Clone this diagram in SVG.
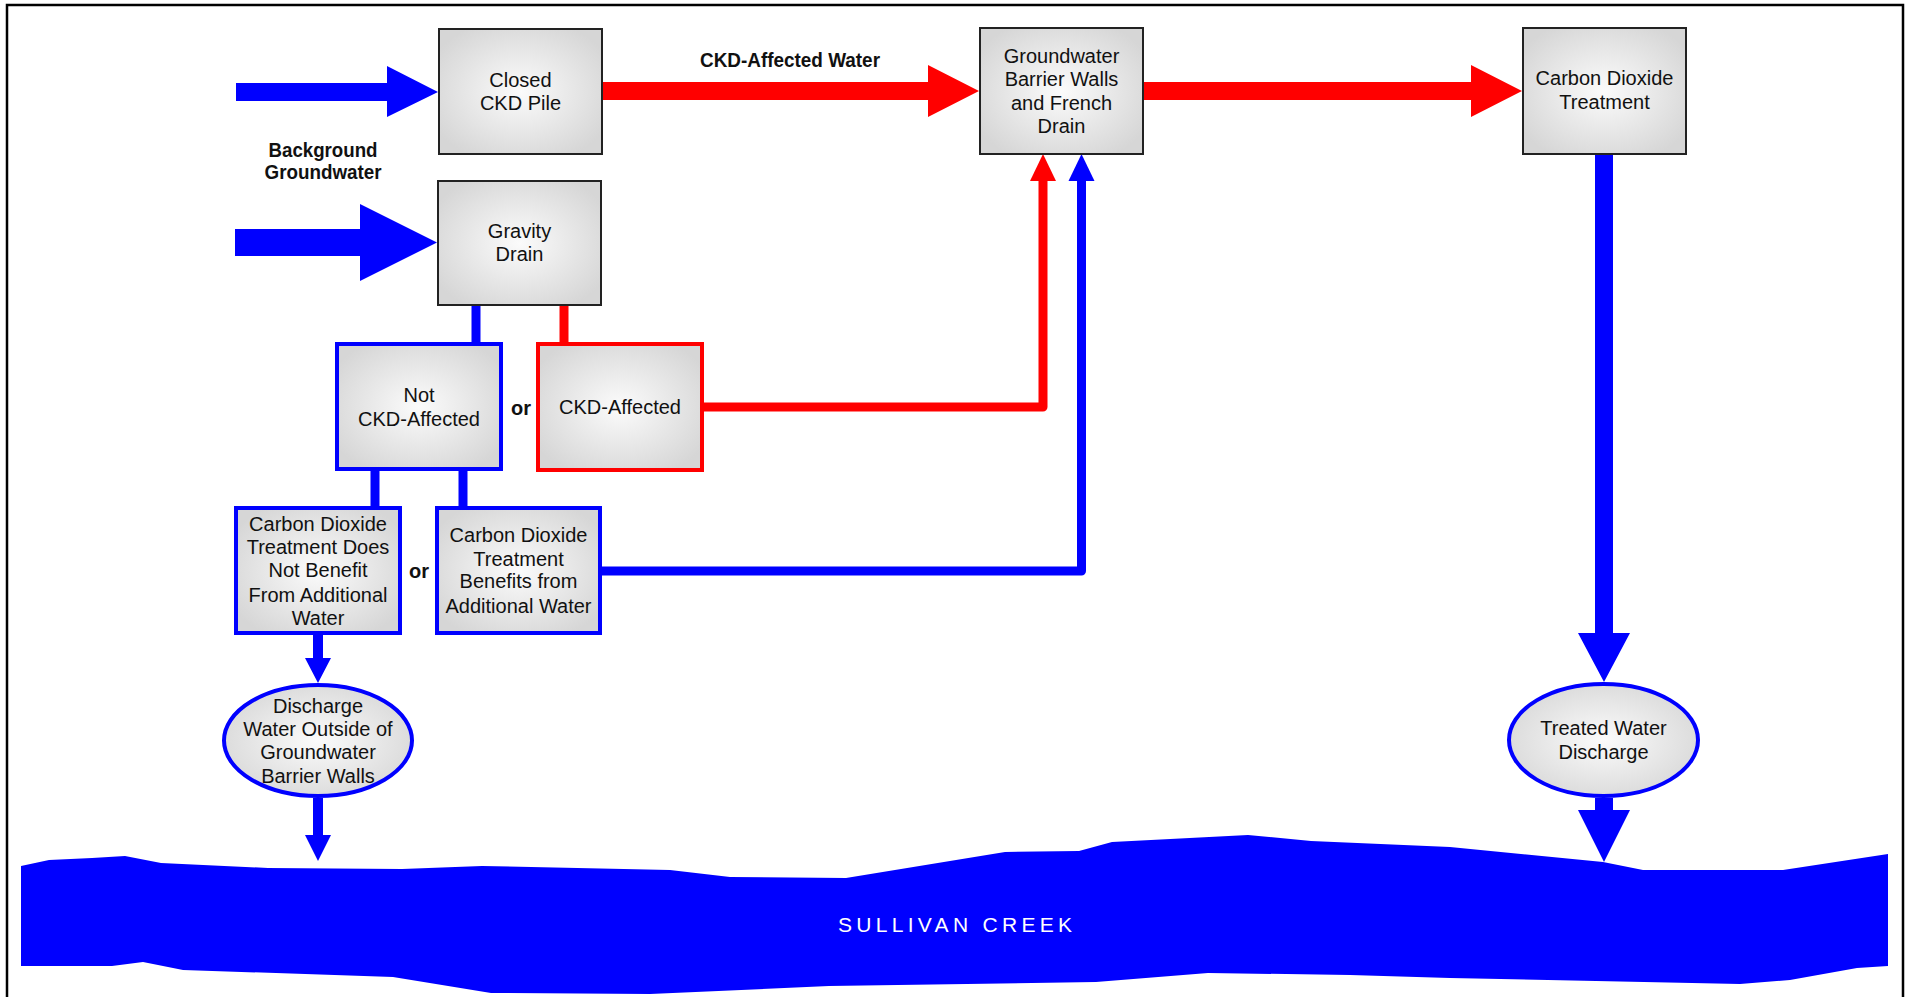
<svg xmlns="http://www.w3.org/2000/svg" width="1911" height="997" viewBox="0 0 1911 997">
<defs>
<radialGradient id="g" cx="50%" cy="50%" r="60%">
<stop offset="0" stop-color="#fbfbfb"/>
<stop offset="1" stop-color="#d6d6d6"/>
</radialGradient>
<style>
.t{font-family:"Liberation Sans",Arial,sans-serif;font-size:20px;fill:#111;text-anchor:middle}
.b{font-family:"Liberation Sans",Arial,sans-serif;font-size:20px;font-weight:bold;fill:#111;text-anchor:middle}
.gb{fill:url(#g);stroke:#222;stroke-width:2}
.bb{fill:url(#g);stroke:#0000ff;stroke-width:4}
.rb{fill:url(#g);stroke:#ff0000;stroke-width:4}
.bl{fill:#0000ff}
.rd{fill:#ff0000}
.bs{fill:none;stroke:#0000ff;stroke-width:9;stroke-linejoin:round}
.rs{fill:none;stroke:#ff0000;stroke-width:9;stroke-linejoin:round}
</style>
</defs>
<rect width="1911" height="997" fill="#fff"/>
<path d="M7,997 V5 H1903 V997" fill="none" stroke="#000" stroke-width="2.5"/>

<g id="creek">
<path class="bl" d="M21,866 L49,860 L92,858 L125,856 L161,863 L268,868 L402,869 L482,866 L670,870 L730,877 L846,878 L1005,852 L1079,851 L1112,842 L1248,835 L1311,841 L1450,847 L1603,862 L1643,870 L1783,870 L1888,854 L1888,966 L1857,968 L1790,980 L1740,984 L1450,978 L1350,975 L1208,973 L1096,982 L829,986 L650,994 L491,993 L393,977 L183,970 L143,962 L112,966 L21,966 Z"/>
<text x="955" y="932" font-family="'Liberation Sans',Arial,sans-serif" font-size="21" fill="#fff" text-anchor="middle" textLength="234" lengthAdjust="spacing">SULLIVAN CREEK</text>
</g>

<g id="connectors">
<polygon class="bl" points="236,83 387,83 387,66 438,92 387,117 387,101 236,101"/>
<polygon class="bl" points="235,229 360,229 360,204 437,242.5 360,281 360,256 235,256"/>
<polygon class="rd" points="602,82 928,82 928,65 979,91 928,117 928,100 602,100"/>
<polygon class="rd" points="1143,82 1471,82 1471,65 1522,91 1471,117 1471,100 1143,100"/>
<polygon class="bl" points="1595,154 1613,154 1613,633 1630,633 1604,682 1578,633 1595,633"/>
<polygon class="bl" points="1595,798 1613,798 1613,810 1630,810 1604,862 1578,810 1595,810"/>
<polygon class="bl" points="313,635 323,635 323,658 331,658 318,683 305,658 313,658"/>
<polygon class="bl" points="313,798 323,798 323,835 331,835 318,861 305,835 313,835"/>
<line class="bs" x1="476" y1="305" x2="476" y2="344"/>
<line class="rs" x1="564" y1="305" x2="564" y2="344"/>
<line class="bs" x1="375" y1="469" x2="375" y2="508" stroke-width="8"/>
<line class="bs" x1="463" y1="469" x2="463" y2="508" stroke-width="8"/>
<path class="rs" d="M703,407 H1043 V178"/>
<polygon class="rd" points="1030,181 1056,181 1043,154"/>
<path class="bs" d="M601,571 H1081.5 V178"/>
<polygon class="bl" points="1068.5,181 1094.5,181 1081.5,154"/>
</g>

<g id="labels">
<text class="b" x="323" y="157" textLength="109" lengthAdjust="spacingAndGlyphs">Background</text>
<text class="b" x="323" y="179" textLength="117" lengthAdjust="spacingAndGlyphs">Groundwater</text>
<text class="b" x="790" y="67" textLength="180" lengthAdjust="spacingAndGlyphs">CKD-Affected Water</text>
<text class="b" x="521" y="415">or</text>
<text class="b" x="419" y="578">or</text>
</g>

<g id="closed-ckd-pile">
<rect class="gb" x="439" y="29" width="163" height="125"/>
<text class="t" x="520.5" y="87">Closed</text>
<text class="t" x="520.5" y="110">CKD Pile</text>
</g>
<g id="gravity-drain">
<rect class="gb" x="438" y="181" width="163" height="124"/>
<text class="t" x="519.5" y="238">Gravity</text>
<text class="t" x="519.5" y="261">Drain</text>
</g>
<g id="barrier-walls">
<rect class="gb" x="980" y="28" width="163" height="126"/>
<text class="t" x="1061.5" y="63">Groundwater</text>
<text class="t" x="1061.5" y="86">Barrier Walls</text>
<text class="t" x="1061.5" y="110">and French</text>
<text class="t" x="1061.5" y="133">Drain</text>
</g>
<g id="co2-treatment">
<rect class="gb" x="1523" y="28" width="163" height="126"/>
<text class="t" x="1604.5" y="85">Carbon Dioxide</text>
<text class="t" x="1604.5" y="109">Treatment</text>
</g>
<g id="not-ckd-affected">
<rect class="bb" x="337" y="344" width="164" height="125"/>
<text class="t" x="419" y="402">Not</text>
<text class="t" x="419" y="426">CKD-Affected</text>
</g>
<g id="ckd-affected">
<rect class="rb" x="538" y="344" width="164" height="126"/>
<text class="t" x="620" y="414">CKD-Affected</text>
</g>
<g id="no-benefit">
<rect class="bb" x="236" y="508" width="164" height="125"/>
<text class="t" x="318" y="531">Carbon Dioxide</text>
<text class="t" x="318" y="554">Treatment Does</text>
<text class="t" x="318" y="577">Not Benefit</text>
<text class="t" x="318" y="602">From Additional</text>
<text class="t" x="318" y="625">Water</text>
</g>
<g id="benefits">
<rect class="bb" x="437" y="508" width="163" height="125"/>
<text class="t" x="518.5" y="542">Carbon Dioxide</text>
<text class="t" x="518.5" y="566">Treatment</text>
<text class="t" x="518.5" y="588">Benefits from</text>
<text class="t" x="518.5" y="613">Additional Water</text>
</g>
<g id="discharge-outside">
<ellipse class="bb" cx="318" cy="740.5" rx="94" ry="55.5"/>
<text class="t" x="318" y="713">Discharge</text>
<text class="t" x="318" y="736">Water Outside of</text>
<text class="t" x="318" y="759">Groundwater</text>
<text class="t" x="318" y="783">Barrier Walls</text>
</g>
<g id="treated-discharge">
<ellipse class="bb" cx="1603.5" cy="740" rx="94.5" ry="56"/>
<text class="t" x="1603.5" y="735">Treated Water</text>
<text class="t" x="1603.5" y="759">Discharge</text>
</g>
</svg>
